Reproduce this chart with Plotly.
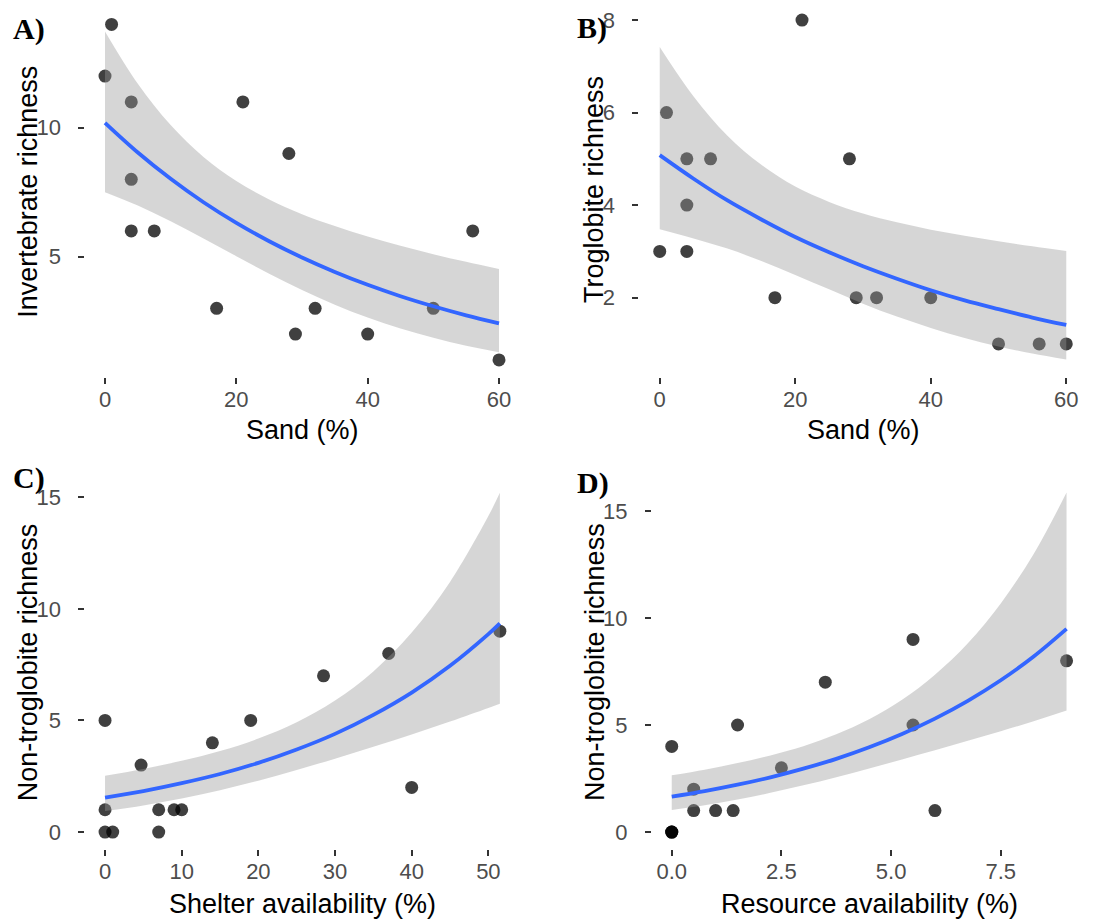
import plotly.graph_objects as go

# ---------------- data ----------------
# Panel A: invertebrate richness vs sand
a_x = [0, 1, 4, 4, 4, 7.5, 17, 21, 28, 29, 32, 40, 50, 56, 60]
a_y = [12, 14, 11, 8, 6, 6, 3, 11, 9, 2, 3, 2, 3, 6, 1]
# Panel B: troglobite richness vs sand
b_x = [0, 1, 4, 4, 4, 7.5, 17, 21, 28, 29, 32, 40, 50, 56, 60]
b_y = [3, 6, 5, 4, 3, 5, 2, 8, 5, 2, 2, 2, 1, 1, 1]
# Panel C: non-troglobite richness vs shelter availability
c_x = [0, 0, 0, 1, 4.7, 7, 7, 9, 10, 14, 19, 28.5, 37, 40, 51.5]
c_y = [5, 1, 0, 0, 3, 1, 0, 1, 1, 4, 5, 7, 8, 2, 9]
# Panel D: non-troglobite richness vs resource availability
d_x = [0, 0, 0, 0, 0.5, 0.5, 1, 1.4, 1.5, 2.5, 3.5, 5.5, 5.5, 6, 9]
d_y = [4, 0, 0, 0, 2, 1, 1, 1, 5, 3, 7, 9, 5, 1, 8]

# fitted curves and confidence bands, read at regular x positions
a_fx = [0, 5, 10, 15, 20, 25, 30, 35, 40, 45, 50, 55, 60]
a_fit = [10.19, 9.04, 8.02, 7.11, 6.31, 5.60, 4.97, 4.41, 3.91, 3.47, 3.08, 2.73, 2.42]
a_upr = [13.73, 11.70, 10.10, 8.86, 7.93, 7.22, 6.65, 6.19, 5.78, 5.42, 5.10, 4.80, 4.52]
a_lwr = [7.50, 6.98, 6.37, 5.71, 5.02, 4.34, 3.71, 3.14, 2.64, 2.22, 1.86, 1.55, 1.30]

b_fx = [0, 5, 10, 15, 20, 25, 30, 35, 40, 45, 50, 55, 60]
b_fit = [5.08, 4.57, 4.10, 3.69, 3.31, 2.98, 2.68, 2.41, 2.16, 1.94, 1.75, 1.57, 1.41]
b_upr = [7.42, 6.35, 5.50, 4.87, 4.40, 4.07, 3.82, 3.63, 3.47, 3.34, 3.22, 3.11, 3.01]
b_lwr = [3.48, 3.28, 3.06, 2.79, 2.49, 2.18, 1.87, 1.59, 1.345, 1.13, 0.946, 0.79, 0.66]

c_fx = [0, 5, 10, 15, 20, 25, 30, 35, 40, 45, 50, 51.5]
c_fit = [1.54, 1.835, 2.19, 2.60, 3.10, 3.70, 4.40, 5.25, 6.25, 7.45, 8.87, 9.35]
c_upr = [2.52, 2.83, 3.19, 3.63, 4.19, 4.92, 5.89, 7.20, 8.94, 11.21, 14.16, 15.20]
c_lwr = [0.94, 1.19, 1.50, 1.87, 2.30, 2.78, 3.29, 3.82, 4.37, 4.95, 5.56, 5.75]

d_fx = [0, 0.75, 1.5, 2.25, 3, 3.75, 4.5, 5.25, 6, 6.75, 7.5, 8.25, 9]
d_fit = [1.65, 1.91, 2.21, 2.555, 2.96, 3.42, 3.96, 4.58, 5.30, 6.13, 7.09, 8.20, 9.49]
d_upr = [2.65, 2.91, 3.22, 3.58, 4.01, 4.57, 5.27, 6.18, 7.35, 8.82, 10.68, 12.99, 15.86]
d_lwr = [1.03, 1.25, 1.52, 1.83, 2.18, 2.56, 2.97, 3.39, 3.82, 4.26, 4.71, 5.18, 5.68]

# axis ticks
a_xticks = [0, 20, 40, 60]
a_yticks = [5, 10]
b_xticks = [0, 20, 40, 60]
b_yticks = [2, 4, 6, 8]
c_xticks = [0, 10, 20, 30, 40, 50]
c_yticks = [0, 5, 10, 15]
d_xticks = [0, 2.5, 5, 7.5]
d_xlabels = ["0.0", "2.5", "5.0", "7.5"]
d_yticks = [0, 5, 10, 15]

panel_letters = ["A)", "B)", "C)", "D)"]
x_titles = ["Sand (%)", "Sand (%)", "Shelter availability (%)", "Resource availability (%)"]
y_titles = ["Invertebrate richness", "Troglobite richness",
            "Non-troglobite richness", "Non-troglobite richness"]

# ---------------- styling ----------------
W, H = 1119, 920
POINT = "rgba(0,0,0,0.75)"
RIBBON = "rgba(153,153,153,0.4)"
LINE = "#3366FF"
FONT = "Liberation Sans, Arial, sans-serif"

fig = go.Figure()

panels = [
    (a_x, a_y, a_fx, a_fit, a_upr, a_lwr),
    (b_x, b_y, b_fx, b_fit, b_upr, b_lwr),
    (c_x, c_y, c_fx, c_fit, c_upr, c_lwr),
    (d_x, d_y, d_fx, d_fit, d_upr, d_lwr),
]

for i, (px, py, fx, fit, upr, lwr) in enumerate(panels):
    xa = "x" if i == 0 else f"x{i+1}"
    ya = "y" if i == 0 else f"y{i+1}"
    fig.add_trace(go.Scatter(x=px, y=py, mode="markers", xaxis=xa, yaxis=ya,
                             marker=dict(size=13, color=POINT, line=dict(width=0)),
                             hoverinfo="skip", showlegend=False))
    fig.add_trace(go.Scatter(x=fx, y=upr, mode="lines", xaxis=xa, yaxis=ya,
                             line=dict(width=0, shape="spline", color=RIBBON),
                             hoverinfo="skip", showlegend=False))
    fig.add_trace(go.Scatter(x=fx, y=lwr, mode="lines", xaxis=xa, yaxis=ya,
                             fill="tonexty", fillcolor=RIBBON,
                             line=dict(width=0, shape="spline", color=RIBBON),
                             hoverinfo="skip", showlegend=False))
    fig.add_trace(go.Scatter(x=fx, y=fit, mode="lines", xaxis=xa, yaxis=ya,
                             line=dict(width=3.8, shape="spline", color=LINE),
                             hoverinfo="skip", showlegend=False))


def px_dom(a, b, total):
    return [a / total, b / total]


def py_dom(top, bottom):
    return [1 - bottom / H, 1 - top / H]


axis_common = dict(showgrid=False, zeroline=False, showline=False,
                   ticks="outside", ticklen=6, tickwidth=2, tickcolor="#333333",
                   tickfont=dict(family=FONT, size=22, color="#4D4D4D"))

# domains (pixels) and ranges
specs = [
    dict(xd=(85.3, 518.7), yd=(7.7, 376.7), xr=[-3, 63], yr=[0.35, 14.65],
         xt=a_xticks, xl=None, yt=a_yticks),
    dict(xd=(639.4, 1086.6), yd=(3.1, 376.6), xr=[-3, 63], yr=[0.293, 8.367],
         xt=b_xticks, xl=None, yt=b_yticks),
    dict(xd=(85.3, 519.6), yd=(475.9, 849), xr=[-2.575, 54.075], yr=[-0.76, 15.96],
         xt=c_xticks, xl=None, yt=c_yticks),
    dict(xd=(652, 1086.3), yd=(475.6, 849), xr=[-0.45, 9.45], yr=[-0.793, 16.653],
         xt=d_xticks, xl=d_xlabels, yt=d_yticks),
]

layout_axes = {}
for i, s in enumerate(specs):
    xn = "xaxis" if i == 0 else f"xaxis{i+1}"
    yn = "yaxis" if i == 0 else f"yaxis{i+1}"
    ya = "y" if i == 0 else f"y{i+1}"
    xa = "x" if i == 0 else f"x{i+1}"
    xdict = dict(axis_common, domain=px_dom(*s["xd"], W), range=s["xr"],
                 tickvals=s["xt"], anchor=ya, ticklabelstandoff=-3)
    if s["xl"] is not None:
        xdict["ticktext"] = s["xl"]
    ydict = dict(axis_common, domain=py_dom(*s["yd"]), range=s["yr"],
                 tickvals=s["yt"], anchor=xa, ticklabelstandoff=13)
    layout_axes[xn] = xdict
    layout_axes[yn] = ydict

fig.update_layout(width=W, height=H, margin=dict(l=0, r=0, t=0, b=0),
                  paper_bgcolor="white", plot_bgcolor="white",
                  showlegend=False, **layout_axes)

# axis titles and panel letters as annotations
xt_pos = [(302, 430), (863, 430), (302.5, 904), (869.2, 904)]
yt_pos = [(27.8, 192), (594, 190), (27.8, 662.5), (594.5, 662.5)]
letter_pos = [(11, 29), (575, 28), (11, 478), (575, 483)]

for i in range(4):
    x, y = xt_pos[i]
    fig.add_annotation(text=x_titles[i], x=x / W, y=1 - y / H, xref="paper", yref="paper",
                       xanchor="center", yanchor="middle", showarrow=False,
                       font=dict(family=FONT, size=27, color="black"))
    x, y = yt_pos[i]
    fig.add_annotation(text=y_titles[i], x=x / W, y=1 - y / H, xref="paper", yref="paper",
                       xanchor="center", yanchor="middle", textangle=-90, showarrow=False,
                       font=dict(family=FONT, size=27, color="black"))
    x, y = letter_pos[i]
    fig.add_annotation(text="<b>" + panel_letters[i] + "</b>", x=x / W, y=1 - y / H,
                       xref="paper", yref="paper", xanchor="left", yanchor="middle",
                       showarrow=False,
                       font=dict(family="Liberation Serif, Times New Roman, serif",
                                 size=30, color="black"))

fig.write_html("out.html",
               config={"displayModeBar": False},
               post_script="document.body.style.margin='0px';"
                           "document.body.style.overflow='hidden';")
